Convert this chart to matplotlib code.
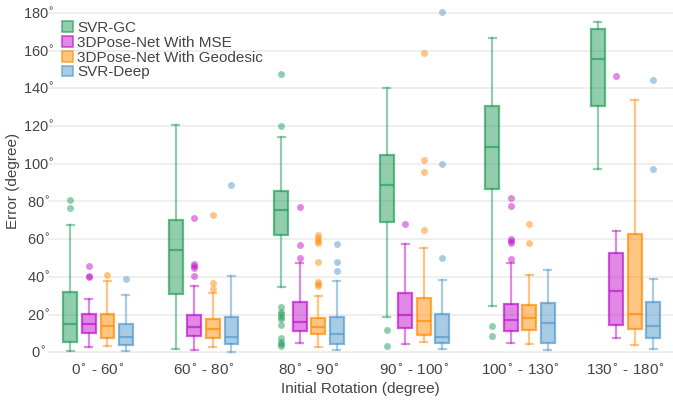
import numpy as np
import matplotlib.pyplot as plt
from matplotlib.patches import Patch

plt.rcParams['font.family'] = ['Liberation Sans', 'DejaVu Sans']

# categories and series
categories = ['0$^{\\circ}$ - 60$^{\\circ}$', '60$^{\\circ}$ - 80$^{\\circ}$',
              '80$^{\\circ}$ - 90$^{\\circ}$', '90$^{\\circ}$ - 100$^{\\circ}$',
              '100$^{\\circ}$ - 130$^{\\circ}$', '130$^{\\circ}$ - 180$^{\\circ}$']
methods = ['SVR-GC', '3DPose-Net With MSE', '3DPose-Net With Geodesic', 'SVR-Deep']
yticks = [0, 20, 40, 60, 80, 100, 120, 140, 160, 180]

# box stats (degrees)
gc_lo = [0.9, 1.6, 34.8, 18.9, 24.4, 97.2]
gc_q1 = [5.3, 30.9, 62.4, 69.1, 86.8, 130.5]
gc_med = [14.8, 54.4, 75.5, 88.9, 108.9, 155.8]
gc_q3 = [31.8, 70.0, 85.4, 104.7, 130.8, 171.4]
gc_hi = [67.7, 120.4, 114.0, 140.4, 166.9, 175.2]
gc_out = [[80.6, 76.7], [],
          [147.7, 120.0, 23.9, 21.5, 20.3, 18.9, 17.5, 14.5, 7.4, 5.6, 4.2, 3.3],
          [11.7, 3.5], [14.0, 8.5], []]

mse_lo = [2.8, 1.4, 4.8, 4.6, 4.9, 7.6]
mse_q1 = [10.1, 8.6, 11.1, 13.1, 11.1, 14.5]
mse_med = [15.0, 13.4, 16.1, 19.8, 17.3, 32.5]
mse_q3 = [20.3, 19.8, 26.5, 31.5, 25.6, 52.8]
mse_hi = [28.3, 35.3, 47.2, 57.6, 47.5, 64.5]
mse_out = [[46.0, 40.3, 40.0], [71.1, 46.7, 45.6, 44.6, 40.5], [76.9, 57.1, 50.0],
           [68.1], [82.0, 77.4, 59.9, 58.9, 57.8, 49.7], [146.7]]

geo_lo = [3.2, 3.0, 2.8, 5.3, 4.6, 4.0]
geo_q1 = [7.8, 7.8, 9.9, 9.2, 11.8, 12.5]
geo_med = [13.8, 12.5, 13.6, 16.8, 18.0, 20.2]
geo_q3 = [20.3, 17.8, 18.0, 28.8, 24.9, 62.6]
geo_hi = [38.0, 31.3, 30.0, 55.3, 41.2, 134.0]
geo_out = [[40.8], [73.0, 36.6, 33.6],
           [62.1, 60.6, 59.2, 57.8, 47.9, 37.5, 36.2, 35.0],
           [159.0, 102.0, 95.5, 64.7], [68.2, 57.8], []]

deep_lo = [0.9, 0.3, 1.2, 1.6, 1.4, 1.9]
deep_q1 = [3.9, 4.4, 4.6, 4.9, 4.8, 7.6]
deep_med = [8.3, 8.1, 9.9, 8.3, 15.5, 14.0]
deep_q3 = [15.0, 18.7, 18.7, 20.3, 26.2, 26.5]
deep_hi = [30.2, 40.5, 37.7, 38.5, 43.5, 39.0]
deep_out = [[38.7], [88.6], [57.3, 47.7, 43.1], [180.4, 99.9, 49.9], [], [144.6, 97.4]]

series = [
    (gc_lo, gc_q1, gc_med, gc_q3, gc_hi, gc_out),
    (mse_lo, mse_q1, mse_med, mse_q3, mse_hi, mse_out),
    (geo_lo, geo_q1, geo_med, geo_q3, geo_hi, geo_out),
    (deep_lo, deep_q1, deep_med, deep_q3, deep_hi, deep_out),
]
base_colors = [(39/255, 159/255, 93/255), (193/255, 21/255, 205/255),
               (1.0, 141/255, 7/255), (85/255, 155/255, 205/255)]

fig = plt.figure(figsize=(6.73, 4.01), dpi=100)
ax = fig.add_axes([48/673, 44/401, 625/673, 352/401])

x = np.arange(len(categories))
offsets = [-1.5, -0.5, 0.5, 1.5]
step = 0.1755
text_col = '#444444'

handles = []
for (lo, q1, med, q3, hi, out), off, c in zip(series, offsets, base_colors):
    fill = (*c, 0.5)
    edge = (*c, 0.7)
    light = (*c, 0.5)
    stats = []
    for i in range(len(categories)):
        stats.append({'whislo': lo[i], 'q1': q1[i], 'med': med[i], 'q3': q3[i],
                      'whishi': hi[i], 'fliers': out[i]})
    ax.bxp(stats, positions=x + off * step, widths=0.13, capwidths=0.066,
           patch_artist=True, manage_ticks=False,
           boxprops=dict(facecolor=fill, edgecolor=edge, linewidth=1.6),
           medianprops=dict(color=edge, linewidth=1.6),
           whiskerprops=dict(color=light, linewidth=1.6),
           capprops=dict(color=light, linewidth=1.6),
           flierprops=dict(marker='o', markerfacecolor=light, markeredgecolor='none',
                           markersize=5))
    handles.append(Patch(facecolor=fill, edgecolor=edge, linewidth=1.2))

ax.set_xlim(-0.475, 5.45)
ax.set_ylim(-2.5, 184.2)
ax.set_yticks(yticks)
ax.set_yticklabels([f'{v}$^{{\\circ}}$' for v in yticks], ha='center')
ax.set_xticks(x)
ax.set_xticklabels(categories)
ax.tick_params(length=0, labelsize=11, labelcolor=text_col)
ax.tick_params(axis='y', labelsize=10.5, pad=7)
ax.tick_params(axis='x', pad=4)
ax.grid(axis='y', color='#ececec', linewidth=1.2)
ax.set_axisbelow(True)
for s in ax.spines.values():
    s.set_visible(False)

ax.set_xlabel('Initial Rotation (degree)', fontsize=11, color=text_col, labelpad=3)
ax.set_ylabel('Error (degree)', fontsize=11, color=text_col)
ax.yaxis.set_label_coords(-0.045, 0.5)

ax.legend(handles, methods, loc='upper left', bbox_to_anchor=(62/673, 1 - 21/401),
          bbox_transform=fig.transFigure, frameon=False, fontsize=11,
          handlelength=0.7, handleheight=0.7, handletextpad=0.3,
          labelspacing=0.05, borderpad=0, borderaxespad=0, labelcolor=text_col)

fig.savefig('out.png', dpi=100)
